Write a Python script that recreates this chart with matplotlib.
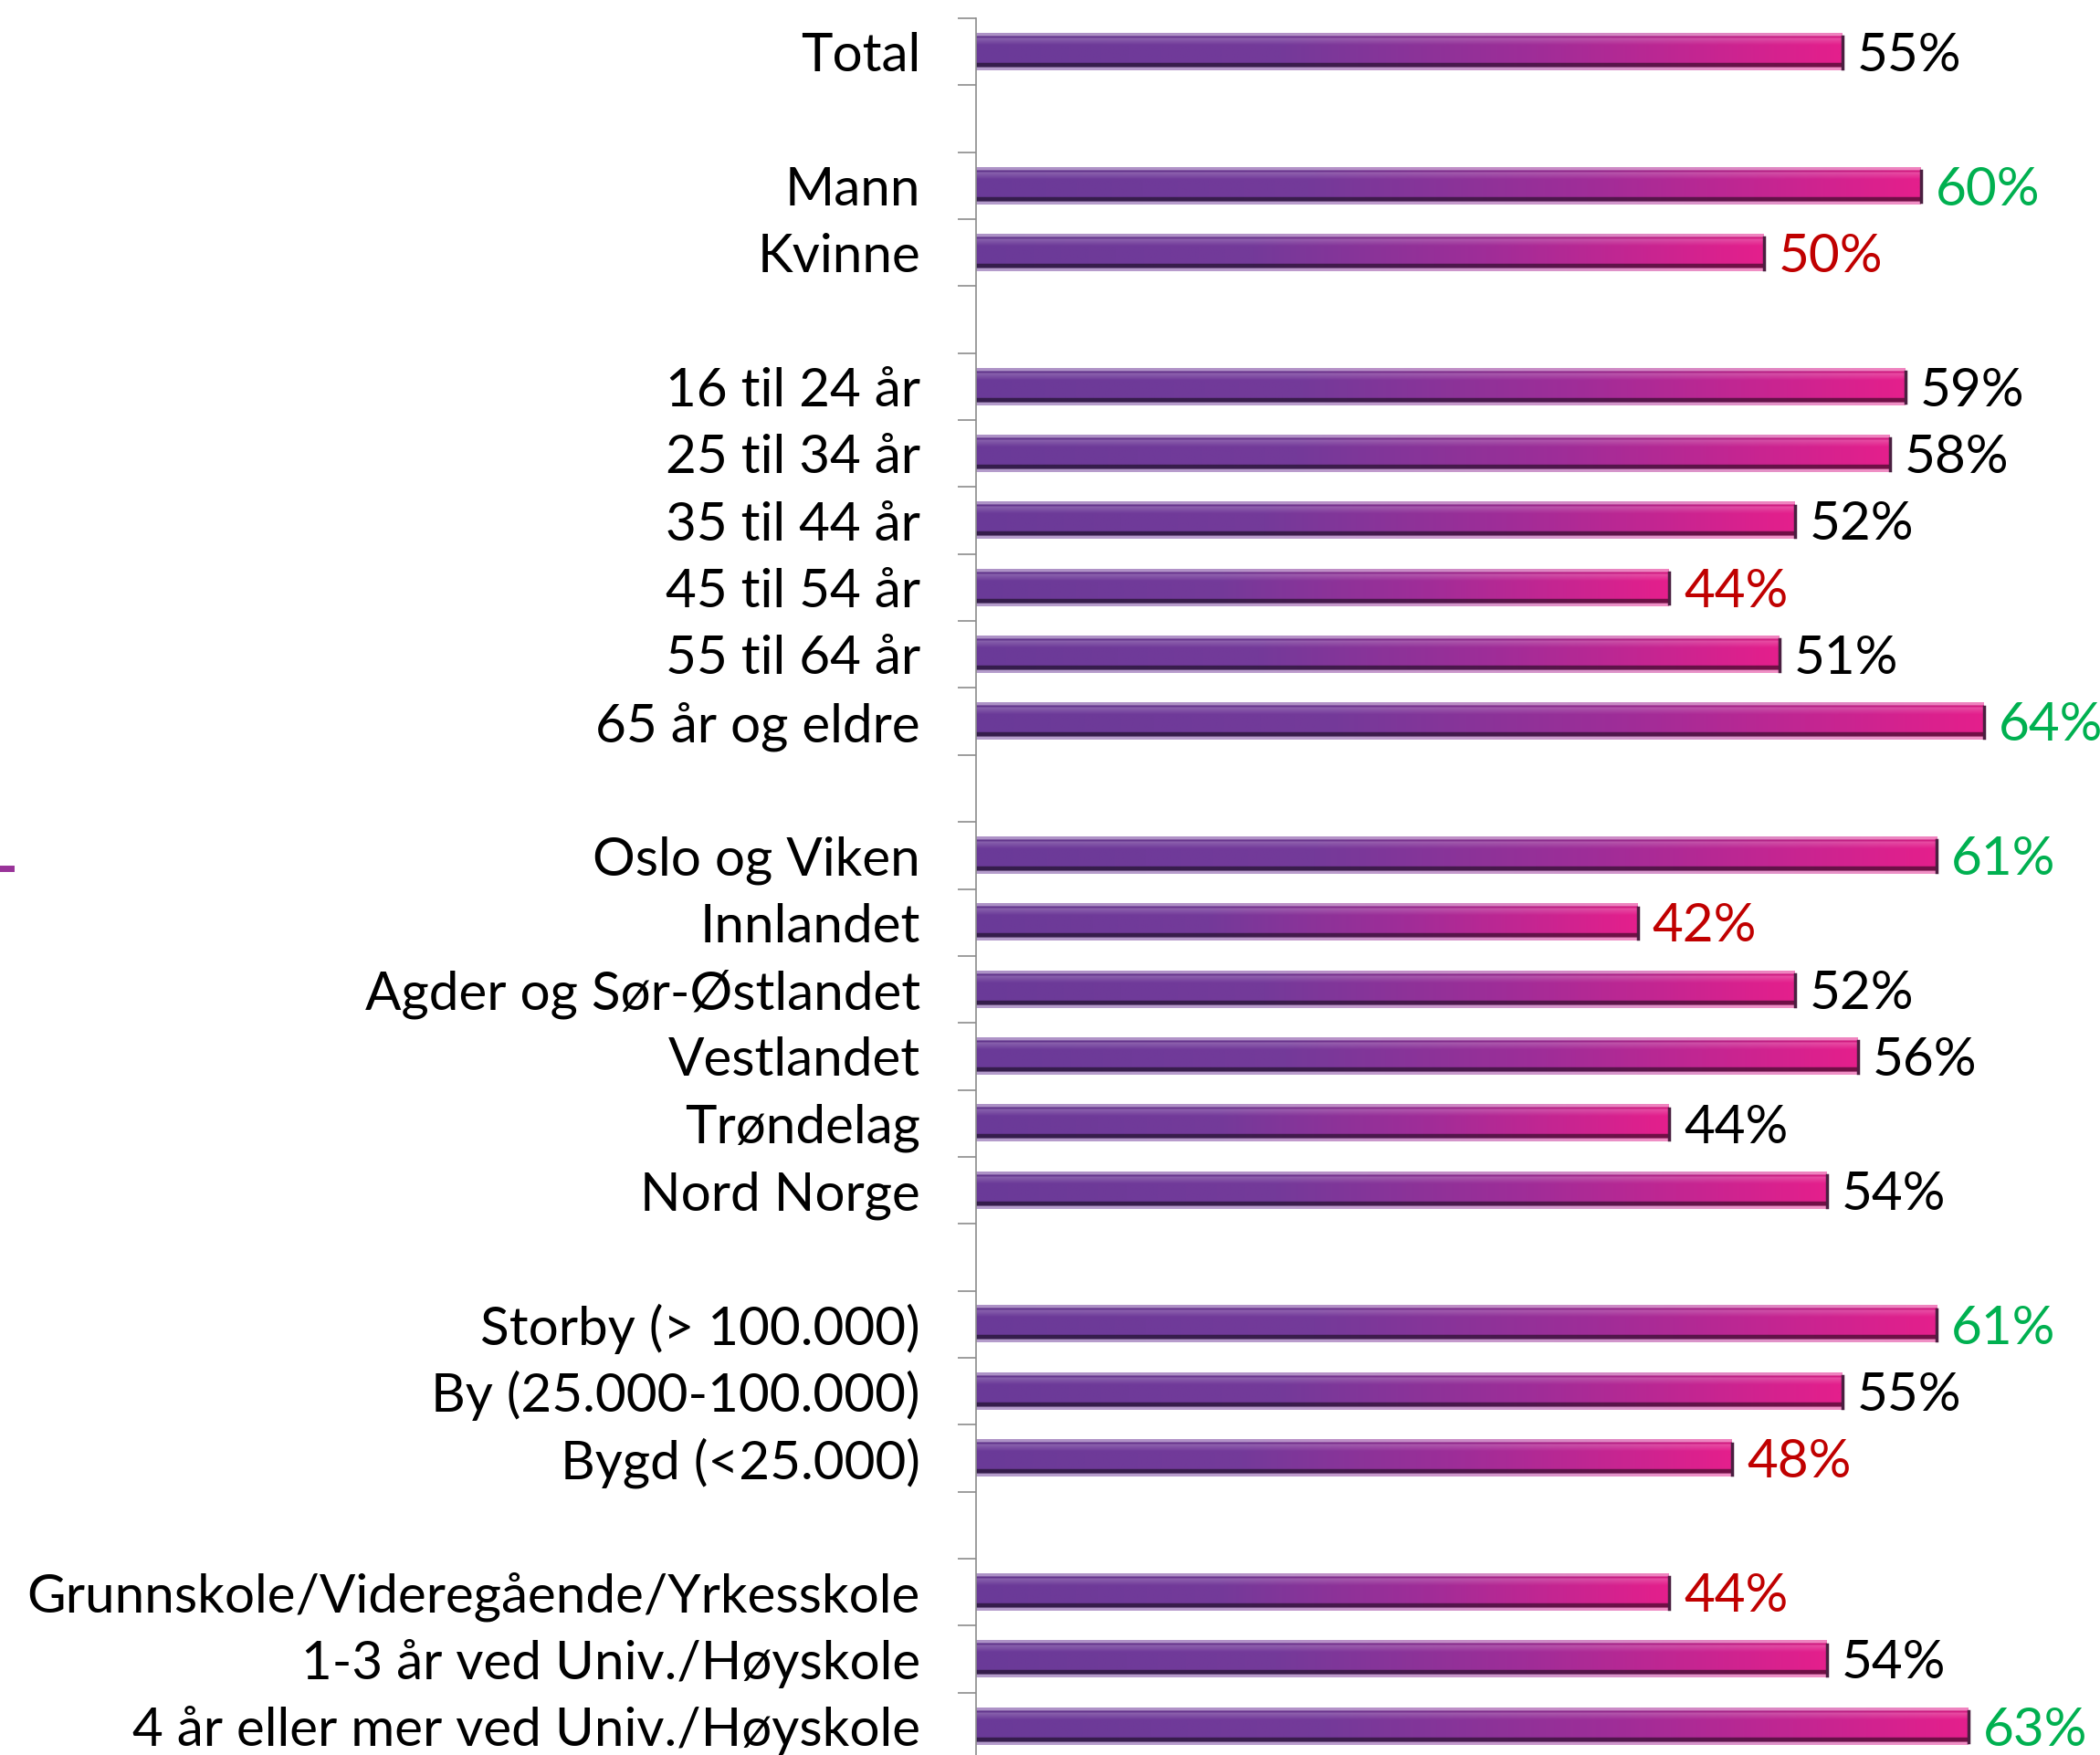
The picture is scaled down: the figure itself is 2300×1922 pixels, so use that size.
import numpy as np
import matplotlib
matplotlib.use("Agg")
import matplotlib.pyplot as plt
from matplotlib.colors import LinearSegmentedColormap
from matplotlib.lines import Line2D

plt.rcParams['font.family'] = ['Lato', 'DejaVu Sans']

categories = ["Total",
              "Mann", "Kvinne",
              "16 til 24 år", "25 til 34 år", "35 til 44 år", "45 til 54 år", "55 til 64 år", "65 år og eldre",
              "Oslo og Viken", "Innlandet", "Agder og Sør-Østlandet", "Vestlandet", "Trøndelag", "Nord Norge",
              "Storby (> 100.000)", "By (25.000-100.000)", "Bygd (<25.000)",
              "Grunnskole/Videregående/Yrkesskole", "1-3 år ved Univ./Høyskole", "4 år eller mer ved Univ./Høyskole"]
values = [55,
          60, 50,
          59, 58, 52, 44, 51, 64,
          61, 42, 52, 56, 44, 54,
          61, 55, 48,
          44, 54, 63]
# black = no difference, green = significantly higher, red = significantly lower
value_colors = ["black",
                "green", "red",
                "black", "black", "black", "red", "black", "green",
                "green", "red", "black", "black", "black", "black",
                "green", "black", "red",
                "red", "black", "green"]
group_sizes = [1, 2, 6, 6, 3, 3]

col_map = {"black": "#000000", "green": "#00B050", "red": "#C00000"}

# row positions with one empty slot between groups
pos = []
slot = 0
for g in group_sizes:
    for k in range(g):
        pos.append(slot)
        slot += 1
    slot += 1
n_slots = slot - 1

W, H = 2300, 1922
fig = plt.figure(figsize=(W / 100, H / 100), dpi=100)
ax_left = 1069 / W
ax_top = 1 - 20 / H
slot_px = 73.35
ax_h = n_slots * slot_px / H
ax = fig.add_axes([ax_left, ax_top - ax_h, 1 - ax_left, ax_h])

# gradient bar image
grad = LinearSegmentedColormap.from_list(
    "bar", [(0.0, "#6a3a98"), (0.35, "#743a9a"), (0.65, "#a02d98"), (1.0, "#e41f8c")])
nx, ny = 300, 60
base = grad(np.linspace(0, 1, nx))[:, :3]
yy = np.linspace(0, 1, ny)
light = np.zeros(ny)
dark = np.zeros(ny)
light[yy < 0.07] = 0.45
dark[(yy >= 0.07) & (yy < 0.12)] = 0.08
band = (yy >= 0.12) & (yy < 0.32)
light[band] = 0.22 * (1 - (yy[band] - 0.12) / 0.2)
dark[(yy >= 0.80) & (yy < 0.93)] = 0.5
light[yy >= 0.93] = 0.5
img = base[None, :, :] * (1 - dark[:, None, None])
img = img + (1 - img) * light[:, None, None]

bar_h = 0.55
for p, v in zip(pos, values):
    f = v / 100
    ax.imshow(img, extent=(0, f, p + bar_h / 2, p - bar_h / 2), aspect='auto',
              interpolation='bilinear', zorder=2)
    ax.plot([f, f], [p - bar_h / 2 + 0.05, p + bar_h / 2 - 0.03], color="#4a1f40", lw=2.5, zorder=3)

for p, v, c in zip(pos, values, value_colors):
    ax.text(v / 100 + 16 / 1725, p + 0.29, f"{v}%", va='baseline', ha='left',
            fontsize=42, color=col_map[c], zorder=4)

ax.set_xlim(0, (W - 1069) / 1725)
ax.set_ylim(n_slots - 0.5, -0.5)

ax.set_yticks(pos)
ax.set_yticklabels(categories, fontsize=42)
ax.tick_params(axis='y', which='major', length=0, pad=44)
ax.set_yticks(np.arange(-0.5, n_slots, 1.0), minor=True)
ax.tick_params(axis='y', which='minor', length=14.5, width=1.2, color="#8c8c8c")
ax.set_xticks([])
for s in ["top", "right", "bottom"]:
    ax.spines[s].set_visible(False)
ax.spines["left"].set_color("#8c8c8c")
ax.spines["left"].set_linewidth(1.2)
ax.set_facecolor("none")

# small stray mark at left edge
fig.add_artist(Line2D([0, 12 / W], [1 - 951 / H, 1 - 951 / H], color="#993399", lw=5))

fig.savefig("out.png", dpi=100)
